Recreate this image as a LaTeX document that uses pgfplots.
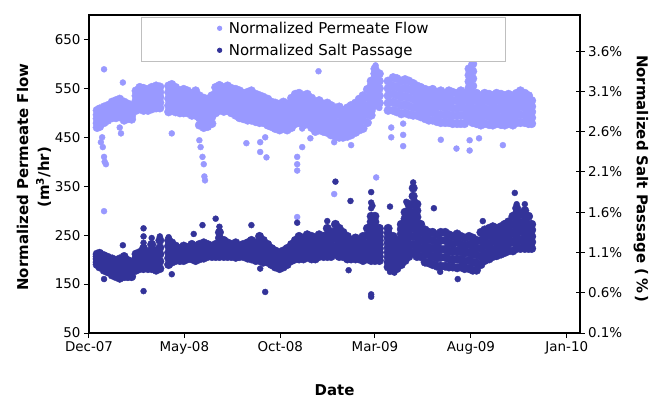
\documentclass[border=0pt]{standalone}
\usepackage{fontspec}
\setmainfont{DejaVu Sans}
\usepackage{pgfplots}
\usepackage{pgfplotstable}
\pgfplotsset{compat=1.18}
\definecolor{flowc}{HTML}{9999FF}
\definecolor{saltc}{HTML}{333399}

% Normalized permeate flow (m3/hr): day since 1-Dec-2007, band values
\pgfplotstableread{
x a b c d e
13 505 496 488 479 470
17 508 499 490 481 472
24 512 504 496 488 480
30 515 508 500 493 485
37 522 514 506 498 490
43 525 516 508 499 490
49 528 519 510 501 492
56 522 513 504 494 485
62 518 511 503 496 488
68 515 508 501 494 487
75 545 535 525 515 505
81 552 541 530 519 508
87 550 539 528 516 505
94 548 537 527 516 505
100 552 541 530 519 508
107 555 544 533 521 510
113 553 542 532 521 510
127 555 542 529 515 502
132 558 545 532 518 505
138 552 540 527 515 502
145 545 534 523 511 500
151 548 536 524 512 500
157 545 534 523 511 500
164 540 529 518 506 495
170 545 532 520 507 495
176 535 520 505 490 475
183 530 515 500 485 470
189 528 514 500 486 472
196 535 521 507 492 478
202 552 539 526 513 500
208 556 543 531 518 505
215 552 540 528 515 503
221 555 543 530 518 505
227 550 538 525 513 500
234 548 535 522 508 495
240 545 531 518 504 490
246 540 527 514 501 488
253 542 528 514 499 485
259 545 530 515 500 485
266 538 524 510 496 482
272 535 521 508 494 480
278 532 519 506 493 480
285 528 515 502 488 475
291 522 510 497 485 472
297 520 507 494 481 468
304 518 505 492 478 465
310 522 508 495 481 468
316 518 505 492 478 465
323 530 515 500 485 470
329 538 523 508 493 478
335 540 525 510 495 480
342 535 520 505 490 475
348 538 523 508 493 478
355 530 515 500 485 470
361 522 507 492 477 462
367 525 510 495 480 465
374 518 504 490 476 462
380 520 505 490 475 460
386 515 500 485 470 455
393 510 496 481 467 452
399 512 497 481 466 450
405 505 491 478 464 450
412 510 496 481 467 452
418 515 500 485 470 455
425 520 505 490 475 460
431 528 512 497 481 465
437 535 518 502 485 468
444 548 531 514 497 480
450 565 548 530 513 495
456 590 571 553 534 515
463 580 565 550 535 520
477 565 550 535 520 505
485 572 555 539 522 505
491 570 553 536 519 502
498 565 548 532 515 498
504 568 551 534 517 500
510 565 548 531 514 497
517 560 544 528 511 495
523 555 540 525 510 495
529 552 537 522 507 492
536 548 533 518 503 488
542 545 530 515 500 485
548 548 532 517 501 485
555 542 527 512 497 482
561 545 529 513 496 480
568 540 525 510 495 480
574 545 529 513 496 480
580 542 526 510 494 478
587 540 525 509 494 478
593 545 528 512 495 478
599 540 525 509 494 478
606 590 564 538 511 485
612 600 570 540 510 480
618 540 525 509 494 478
625 535 520 505 490 475
631 540 525 509 494 478
638 538 523 507 492 476
644 535 520 505 490 475
650 540 525 509 494 478
657 538 522 507 491 476
663 535 520 505 490 475
669 538 523 508 493 478
676 535 520 505 490 475
682 540 525 510 495 480
688 545 529 513 496 480
695 540 525 510 495 480
701 535 521 507 492 478
706 525 513 502 490 478
}\flowband

% extra band readings where the band is widest
\pgfplotstableread{
x a b c d
450 556 539 521 504
456 580 562 543 524
606 577 551 524 498
612 585 555 525 495
}\flowextra

\pgfplotstableread{
x y
24 589
54 562
19 440
21 450
22 430
24 410
25 400
27 395
49 470
51 458
132 458
176 444
178 430
181 410
183 395
184 370
185 362
251 438
273 440
273 420
281 450
283 409
332 410
332 395
332 382
340 468
340 430
353 448
366 585
391 440
418 434
436 470
463 510
482 470
482 450
501 478
501 455
501 432
561 445
586 427
607 444
607 423
622 448
660 434
24 299
332 287
391 334
458 368
452 560
454 580
457 597
459 575
460 565
606 550
607 575
609 595
609 565
611 585
}\flowout

% Normalized salt passage (%): day since 1-Dec-2007, band values
\pgfplotstableread{
x a b c d e
13 1.08 1.05 1.02 0.98 0.95
17 1.09 1.05 1.01 0.96 0.92
24 1.06 1.02 0.97 0.93 0.88
30 1.04 1.00 0.95 0.91 0.86
37 1.02 0.97 0.92 0.87 0.82
43 1.00 0.95 0.90 0.85 0.80
49 1.02 0.96 0.90 0.84 0.78
56 1.05 0.99 0.93 0.86 0.80
62 1.00 0.95 0.90 0.85 0.80
68 0.98 0.94 0.89 0.85 0.80
75 1.08 1.03 0.98 0.93 0.88
81 1.10 1.05 1.00 0.95 0.90
87 1.15 1.09 1.03 0.96 0.90
94 1.10 1.05 1.00 0.95 0.90
100 1.20 1.13 1.05 0.98 0.90
107 1.12 1.06 1.00 0.94 0.88
113 1.25 1.16 1.08 0.99 0.90
127 1.25 1.18 1.10 1.03 0.95
132 1.22 1.16 1.10 1.04 0.98
138 1.18 1.14 1.09 1.05 1.00
145 1.15 1.11 1.08 1.04 1.00
151 1.18 1.14 1.09 1.05 1.00
157 1.16 1.13 1.09 1.06 1.02
164 1.20 1.16 1.11 1.07 1.02
170 1.17 1.13 1.09 1.04 1.00
176 1.20 1.16 1.11 1.07 1.02
183 1.22 1.17 1.13 1.08 1.03
189 1.20 1.16 1.13 1.09 1.05
196 1.18 1.15 1.12 1.08 1.05
202 1.20 1.16 1.13 1.09 1.05
208 1.35 1.28 1.20 1.13 1.05
215 1.25 1.20 1.15 1.10 1.05
221 1.22 1.18 1.14 1.09 1.05
227 1.20 1.16 1.13 1.09 1.05
234 1.22 1.17 1.13 1.08 1.04
240 1.18 1.15 1.12 1.08 1.05
246 1.20 1.16 1.13 1.09 1.05
253 1.22 1.17 1.13 1.08 1.03
259 1.25 1.19 1.14 1.08 1.02
266 1.22 1.17 1.11 1.06 1.00
272 1.30 1.23 1.15 1.08 1.00
278 1.25 1.18 1.12 1.05 0.98
285 1.20 1.15 1.09 1.04 0.98
291 1.15 1.10 1.05 1.00 0.95
297 1.12 1.07 1.02 0.97 0.92
304 1.10 1.05 1.00 0.95 0.90
310 1.12 1.07 1.02 0.97 0.92
316 1.15 1.10 1.05 1.00 0.95
323 1.20 1.15 1.10 1.05 1.00
329 1.25 1.19 1.14 1.08 1.02
335 1.30 1.23 1.16 1.09 1.02
342 1.28 1.22 1.15 1.09 1.02
348 1.32 1.25 1.18 1.11 1.04
355 1.30 1.23 1.16 1.09 1.02
361 1.28 1.22 1.15 1.09 1.02
367 1.32 1.25 1.19 1.12 1.05
374 1.30 1.24 1.18 1.11 1.05
380 1.40 1.31 1.23 1.14 1.05
386 1.35 1.28 1.20 1.13 1.05
393 1.45 1.36 1.27 1.17 1.08
399 1.40 1.31 1.23 1.14 1.05
405 1.35 1.28 1.20 1.13 1.05
412 1.30 1.23 1.16 1.09 1.02
418 1.25 1.19 1.14 1.08 1.02
425 1.28 1.22 1.15 1.09 1.02
431 1.25 1.19 1.14 1.08 1.02
437 1.30 1.23 1.15 1.08 1.00
444 1.40 1.31 1.21 1.12 1.02
450 1.55 1.41 1.28 1.14 1.00
456 1.55 1.41 1.28 1.14 1.00
463 1.40 1.30 1.20 1.10 1.00
477 1.40 1.28 1.16 1.04 0.92
485 1.30 1.20 1.09 0.99 0.88
491 1.25 1.16 1.08 0.99 0.90
498 1.45 1.33 1.20 1.08 0.95
504 1.60 1.45 1.30 1.15 1.00
510 1.70 1.54 1.38 1.21 1.05
517 1.90 1.70 1.50 1.30 1.10
523 1.70 1.54 1.38 1.21 1.05
529 1.45 1.35 1.25 1.15 1.05
536 1.38 1.28 1.18 1.08 0.98
542 1.35 1.26 1.16 1.07 0.97
548 1.35 1.25 1.15 1.05 0.95
555 1.32 1.22 1.12 1.03 0.93
561 1.35 1.25 1.14 1.04 0.93
568 1.35 1.25 1.14 1.04 0.93
574 1.32 1.22 1.12 1.02 0.92
580 1.30 1.20 1.11 1.01 0.92
587 1.33 1.23 1.12 1.02 0.91
593 1.30 1.20 1.11 1.01 0.92
599 1.28 1.18 1.09 0.99 0.90
606 1.30 1.20 1.10 1.00 0.90
612 1.28 1.18 1.08 0.98 0.88
618 1.25 1.16 1.07 0.97 0.88
625 1.35 1.25 1.15 1.05 0.95
631 1.38 1.28 1.19 1.09 1.00
638 1.40 1.31 1.21 1.12 1.02
644 1.42 1.33 1.24 1.14 1.05
650 1.40 1.32 1.23 1.15 1.06
657 1.42 1.34 1.25 1.17 1.08
663 1.45 1.36 1.28 1.19 1.10
669 1.48 1.39 1.30 1.21 1.12
676 1.55 1.45 1.34 1.23 1.12
682 1.65 1.53 1.40 1.28 1.15
688 1.58 1.47 1.37 1.26 1.15
695 1.62 1.50 1.39 1.27 1.15
701 1.55 1.45 1.35 1.25 1.15
706 1.45 1.38 1.30 1.23 1.15
}\saltband

% extra band readings where the band is widest
\pgfplotstableread{
x a b c d
450 1.48 1.35 1.21 1.07
456 1.48 1.35 1.21 1.07
463 1.35 1.25 1.15 1.05
477 1.34 1.22 1.10 0.98
485 1.25 1.14 1.04 0.93
498 1.39 1.26 1.14 1.01
504 1.52 1.38 1.22 1.08
510 1.62 1.46 1.30 1.13
517 1.80 1.60 1.40 1.20
523 1.62 1.46 1.30 1.13
682 1.59 1.46 1.34 1.21
695 1.56 1.45 1.33 1.21
}\saltextra

\pgfplotstableread{
x y
24 0.77
54 1.19
87 1.40
87 1.30
87 1.22
87 0.62
100 1.28
113 1.30
127 1.29
132 0.83
167 1.33
181 1.44
202 1.52
208 1.42
259 1.44
273 0.90
281 0.61
332 1.47
380 1.49
393 1.98
417 1.74
414 0.88
450 0.55
450 0.58
450 1.85
450 1.72
450 1.65
452 1.68
480 1.67
480 0.86
487 0.85
506 1.73
517 1.97
515 1.80
519 1.75
550 1.65
560 0.86
588 0.77
628 1.49
679 1.84
682 1.70
684 1.55
695 1.70
}\saltout

\pgfplotsset{
  flowm/.style={only marks, mark=*, mark size=4.3pt, color=flowc, forget plot},
  saltm/.style={only marks, mark=*, mark size=4.3pt, color=saltc, forget plot},
  flowo/.style={only marks, mark=*, mark size=3pt, color=flowc, forget plot},
  salto/.style={only marks, mark=*, mark size=3pt, color=saltc, forget plot},
  common/.style={
    at={(0,0)}, anchor=south west,
    scale only axis, width=491bp, height=318bp,
    xmin=0, xmax=783,
    axis line style={line width=1.6bp, black},
    tick style={black, line width=1bp},
    ticklabel style={font=\fontsize{13.5}{16}\selectfont},
    /pgf/number format/assume math mode=true,
  },
}

\begin{document}
\begin{tikzpicture}
\path[use as bounding box] (-89bp,-66bp) rectangle (562bp,333bp);
\begin{axis}[common,
  ymin=50, ymax=700,
  xtick={0,152,305,456,609,762},
  xticklabels={Dec-07,May-08,Oct-08,Mar-09,Aug-09,Jan-10},
  ytick={50,150,250,350,450,550,650},
  tick align=outside, major tick length=5bp,
  xtick pos=left, ytick pos=left,
  xlabel={Date},
  xlabel style={at={(axis description cs:0.5,-0.18)}, anchor=center, font=\bfseries\fontsize{15}{18}\selectfont},
  ylabel={Normalized Permeate Flow\\(m\textsuperscript{3}/hr)},
  ylabel style={at={(axis description cs:-0.112,0.49)}, anchor=center, align=center, font=\bfseries\fontsize{15}{21}\selectfont},
  legend style={at={(axis description cs:0.106,0.994)}, anchor=north west,
    draw=black!25, line width=0.8bp, fill=white,
    font=\fontsize{15}{18}\selectfont,
    inner xsep=76bp, inner ysep=4.5bp, column sep=6bp, row sep=9bp,
    nodes={inner sep=1bp, anchor=west, text height=11bp, text depth=0bp}},
  legend image code/.code={\draw[#1] plot coordinates {(0bp,0bp)};},
]
\addplot[flowm] table[x=x,y=a]{\flowband};
\addplot[flowm] table[x=x,y=b]{\flowband};
\addplot[flowm] table[x=x,y=c]{\flowband};
\addplot[flowm] table[x=x,y=d]{\flowband};
\addplot[flowm] table[x=x,y=e]{\flowband};
\addplot[flowm] table[x=x,y=a]{\flowextra};
\addplot[flowm] table[x=x,y=b]{\flowextra};
\addplot[flowm] table[x=x,y=c]{\flowextra};
\addplot[flowm] table[x=x,y=d]{\flowextra};
\addplot[flowo] table[x=x,y=y]{\flowout};
\addlegendimage{only marks, mark=*, mark size=2.2pt, color=flowc}
\addlegendentry{Normalized Permeate Flow}
\addlegendimage{only marks, mark=*, mark size=2.2pt, color=saltc}
\addlegendentry{Normalized Salt Passage}
\end{axis}
\begin{axis}[common,
  ymin=0.1, ymax=4.05,
  axis x line=none, axis y line*=right,
  ytick={0.1,0.6,1.1,1.6,2.1,2.6,3.1,3.6},
  yticklabel={\pgfmathprintnumber[fixed,fixed zerofill,precision=1]{\tick}\%},
  tick align=center, major tick length=9bp,
  ylabel={Normalized Salt Passage (\,\%\,)},
  ylabel style={at={(axis description cs:1.124,0.485)}, anchor=center, rotate=180, font=\bfseries\fontsize{15}{18}\selectfont},
]
\addplot[saltm] table[x=x,y=a]{\saltband};
\addplot[saltm] table[x=x,y=b]{\saltband};
\addplot[saltm] table[x=x,y=c]{\saltband};
\addplot[saltm] table[x=x,y=d]{\saltband};
\addplot[saltm] table[x=x,y=e]{\saltband};
\addplot[saltm] table[x=x,y=a]{\saltextra};
\addplot[saltm] table[x=x,y=b]{\saltextra};
\addplot[saltm] table[x=x,y=c]{\saltextra};
\addplot[saltm] table[x=x,y=d]{\saltextra};
\addplot[salto] table[x=x,y=y]{\saltout};
\end{axis}
\end{tikzpicture}
\end{document}
